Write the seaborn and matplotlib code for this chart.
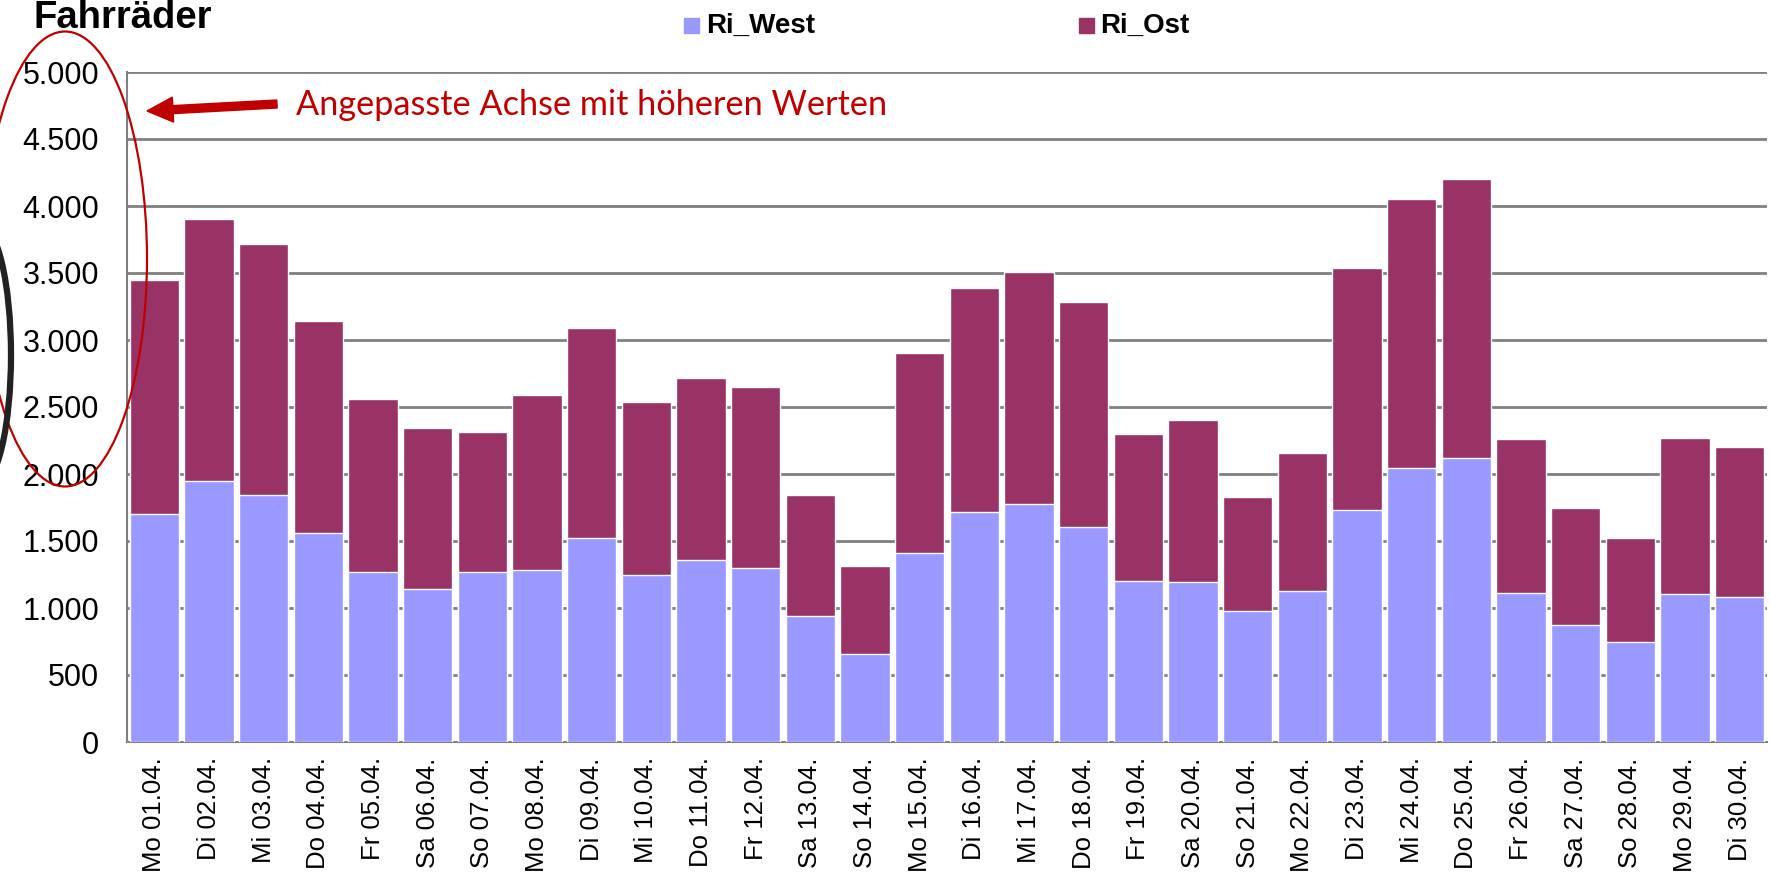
import matplotlib
matplotlib.use("Agg")
import matplotlib.pyplot as plt
import seaborn as sns
import numpy as np
import pandas as pd
from matplotlib.patches import Ellipse, Rectangle, FancyArrow

# ---- data ----
days = ["Mo 01.04.", "Di 02.04.", "Mi 03.04.", "Do 04.04.", "Fr 05.04.", "Sa 06.04.",
        "So 07.04.", "Mo 08.04.", "Di 09.04.", "Mi 10.04.", "Do 11.04.", "Fr 12.04.",
        "Sa 13.04.", "So 14.04.", "Mo 15.04.", "Di 16.04.", "Mi 17.04.", "Do 18.04.",
        "Fr 19.04.", "Sa 20.04.", "So 21.04.", "Mo 22.04.", "Di 23.04.", "Mi 24.04.",
        "Do 25.04.", "Fr 26.04.", "Sa 27.04.", "So 28.04.", "Mo 29.04.", "Di 30.04."]
ri_west = [1700, 1950, 1840, 1560, 1270, 1140, 1265, 1280, 1520, 1250, 1360, 1300,
           940, 655, 1410, 1715, 1775, 1605, 1200, 1195, 980, 1130, 1730, 2045,
           2120, 1110, 870, 750, 1105, 1085]
ri_ost = [1750, 1950, 1880, 1580, 1290, 1200, 1045, 1310, 1570, 1290, 1355, 1350,
          900, 655, 1495, 1675, 1730, 1680, 1095, 1205, 850, 1030, 1810, 2010,
          2080, 1150, 875, 770, 1160, 1115]
y_ticks = [0, 500, 1000, 1500, 2000, 2500, 3000, 3500, 4000, 4500, 5000]
y_tick_labels = ["0", "500", "1.000", "1.500", "2.000", "2.500", "3.000",
                 "3.500", "4.000", "4.500", "5.000"]
series_names = ["Ri_West", "Ri_Ost"]
title_text = "Fahrräder"
note_text = "Angepasste Achse mit höheren Werten"

west_color = "#9999FF"
ost_color = "#993366"
red = "#C00000"

df = pd.DataFrame({"Tag": days, "West": ri_west, "Ost": ri_ost})
df["Gesamt"] = df["West"] + df["Ost"]

sns.set_style("white")
plt.rcParams["font.family"] = ["Liberation Sans", "DejaVu Sans"]
plt.rcParams["text.color"] = "black"
plt.rcParams["xtick.color"] = "black"
plt.rcParams["ytick.color"] = "black"
plt.rcParams["xtick.labelcolor"] = "black"
plt.rcParams["ytick.labelcolor"] = "black"

W, H = 1770, 876
fig = plt.figure(figsize=(W / 100, H / 100), dpi=100)
ax = fig.add_axes([127 / W, 1 - 742 / H, (1767 - 127) / W, (742 - 72) / H])

sns.barplot(data=df, x="Tag", y="Gesamt", color=ost_color, saturation=1,
            width=0.9, ax=ax, zorder=2)
sns.barplot(data=df, x="Tag", y="West", color=west_color, saturation=1,
            width=0.9, ax=ax, zorder=3)

ax.set_xlim(-0.5, len(days) - 0.5)
ax.set_ylim(0, 5000)
ax.set_yticks(y_ticks)
ax.set_yticklabels(y_tick_labels, fontsize=22, color="black")
ax.set_xlabel("")
ax.set_ylabel("")
ax.set_xticks(range(len(days)))
ax.set_xticklabels(days, rotation=90, fontsize=18.5, color="black")
ax.set_xticks(np.arange(-0.5, len(days) - 0.5, 4), minor=True)
ax.tick_params(axis="x", which="major", length=0, pad=11)
ax.tick_params(axis="x", which="minor", length=7, width=1.5, color="#808080", direction="out")
ax.tick_params(axis="y", length=7, width=1.5, color="#808080", direction="out", pad=13)
ax.set_axisbelow(True)
ax.yaxis.grid(True, color="#808080", lw=2)
ax.xaxis.grid(False)
for s in ["top", "right"]:
    ax.spines[s].set_visible(False)
for s in ["left", "bottom"]:
    ax.spines[s].set_color("#808080")
    ax.spines[s].set_linewidth(1.5)

# ---- overlay in pixel coordinates ----
ov = fig.add_axes([0, 0, 1, 1], zorder=10)
ov.set_xlim(0, W)
ov.set_ylim(H, 0)
ov.axis("off")
ov.patch.set_alpha(0)

ov.text(33, 28, title_text, fontsize=27.5, fontweight="bold", color="black",
        ha="left", va="baseline")

# legend
ov.add_patch(Rectangle((684, 18), 15, 15, color=west_color))
ov.text(706, 26, series_names[0], fontsize=20, fontweight="bold", color="black",
        ha="left", va="center")
ov.add_patch(Rectangle((1079, 18), 15, 15, color=ost_color))
ov.text(1100, 26, series_names[1], fontsize=20, fontweight="bold", color="black",
        ha="left", va="center")

# annotation
ov.add_patch(Ellipse((65, 259), 164, 455, fill=False, edgecolor=red, lw=1.6, clip_on=False))
ov.add_patch(Ellipse((-20, 355), 62, 260, fill=False, edgecolor="#222222", lw=4.5, clip_on=False))
ov.add_patch(FancyArrow(277, 104, -130, 7, width=8, head_width=25, head_length=26,
                        length_includes_head=True, color=red))
ov.text(296, 105, note_text, fontsize=24.7, color=red, family=["Lato", "DejaVu Sans"],
        ha="left", va="center")

fig.savefig("out.png", dpi=100)
